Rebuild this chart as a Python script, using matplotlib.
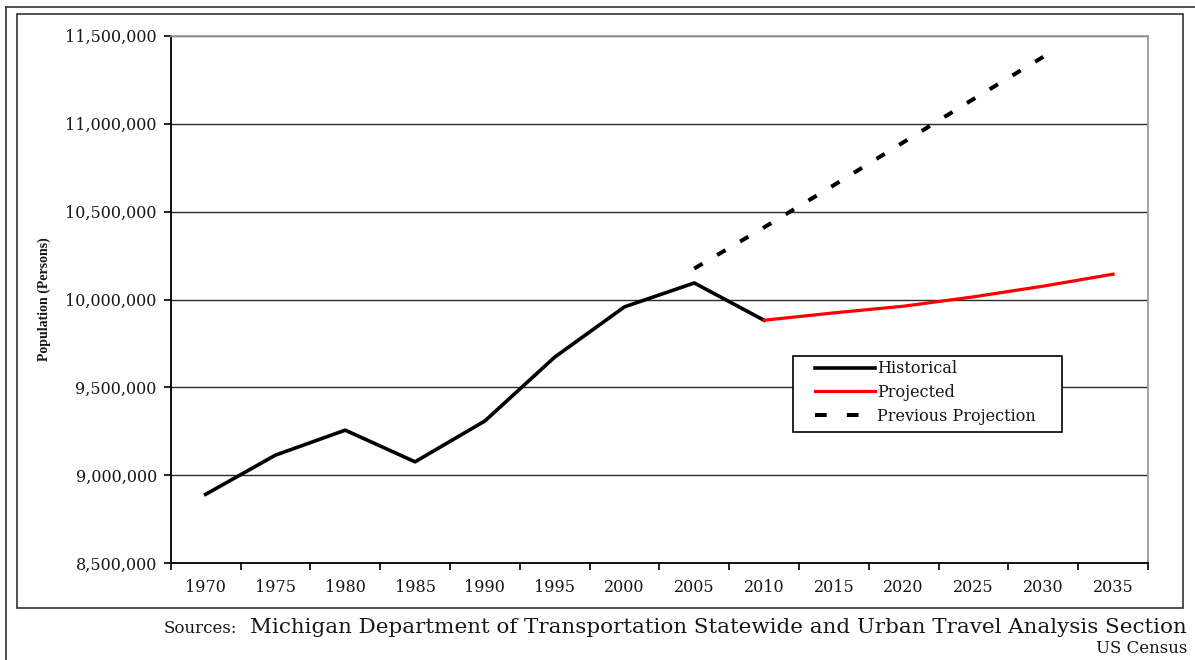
import numpy as np
import matplotlib.pyplot as plt
from matplotlib.patches import Rectangle
from matplotlib.lines import Line2D
from matplotlib.ticker import FixedLocator, FuncFormatter

# category axis
years = ['1970', '1975', '1980', '1985', '1990', '1995', '2000',
         '2005', '2010', '2015', '2020', '2025', '2030', '2035']

hist_years = ['1970', '1975', '1980', '1985', '1990', '1995', '2000', '2005', '2010']
historical = [8892000, 9115000, 9257000, 9077000, 9309000, 9672000, 9958000, 10094000, 9882000]

proj_years = ['2010', '2015', '2020', '2025', '2030', '2035']
projected = [9882000, 9924000, 9962000, 10015000, 10076000, 10144000]

prev_years = ['2005', '2010', '2015', '2020', '2025', '2030']
previous = [10176000, 10410000, 10650000, 10895000, 11140000, 11380000]

W, H = 1195, 660
serif = 'DejaVu Serif'
txt_col = '#161616'

pos = {y: i for i, y in enumerate(years)}

fig = plt.figure(figsize=(W / 100, H / 100), dpi=100)
ax = fig.add_axes([170.7 / W, 1 - 563.3 / H, (1148 - 170.7) / W, (563.3 - 35.7) / H])

l_hist, = ax.plot([pos[y] for y in hist_years], historical, color='black', lw=2.6,
                  solid_joinstyle='round', label='Historical', zorder=3)
l_proj, = ax.plot([pos[y] for y in proj_years], projected, color='#ff0000', lw=2.3,
                  solid_joinstyle='round', label='Projected', zorder=3)
l_prev, = ax.plot([pos[y] for y in prev_years], previous, color='black', lw=2.9,
                  dashes=(2.4, 4.2), dash_capstyle='butt', label='Previous Projection', zorder=3)

ax.set_xlim(-0.5, len(years) - 0.5)
ax.set_ylim(8500000, 11500000)

# ticks at category boundaries, labels at centres
ax.xaxis.set_major_locator(FixedLocator(np.arange(-0.5, len(years))))
ax.xaxis.set_major_formatter(FuncFormatter(lambda v, p: ''))
ax.xaxis.set_minor_locator(FixedLocator(np.arange(len(years))))
ax.xaxis.set_minor_formatter(FuncFormatter(lambda v, p: years[int(round(v))]))
ax.tick_params(axis='x', which='major', direction='out', length=5, width=1.2, color='black')
ax.tick_params(axis='x', which='minor', length=0, pad=11)

ax.set_yticks(np.arange(8500000, 11500001, 500000))
ax.yaxis.set_major_formatter(FuncFormatter(lambda v, p: f'{v:,.0f}'))
ax.tick_params(axis='y', direction='out', length=5, width=1.2, color='black', pad=5)

for lab in ax.get_xticklabels(minor=True) + ax.get_yticklabels():
    lab.set_family(serif)
    lab.set_fontsize(11.5)
    lab.set_color(txt_col)

ax.set_axisbelow(True)
ax.yaxis.grid(True, color='#2a2a2a', lw=1.0)
for s in ['left', 'bottom']:
    ax.spines[s].set_color('black')
    ax.spines[s].set_linewidth(1.3)
for s in ['top', 'right']:
    ax.spines[s].set_color('#9a9a9a')
    ax.spines[s].set_linewidth(1.3)

fig.text(44 / W, 1 - 299 / H, 'Population (Persons)', rotation=90, ha='center', va='center',
         family='Liberation Serif', fontweight='bold', fontsize=10, color=txt_col)

# legend box and entries
fig.add_artist(Rectangle((793.3 / W, 1 - 431.7 / H), (1061.7 - 793.3) / W, (431.7 - 355.7) / H,
                         transform=fig.transFigure, facecolor='white', edgecolor='black',
                         lw=1.2, zorder=2))
leg = fig.legend(handles=[l_hist, l_proj, l_prev], loc='upper left',
                 bbox_to_anchor=(811.5 / W, 1 - 357 / H), bbox_transform=fig.transFigure,
                 borderaxespad=0, borderpad=0.2, frameon=False, handlelength=3.75,
                 handletextpad=0.15, labelspacing=0.42,
                 prop={'family': serif, 'size': 11.5})
for t in leg.get_texts():
    t.set_color(txt_col)
leg.legend_handles[2].set_dashes((2.9, 5.0))

# frames around the figure
fig.add_artist(Line2D([5.7 / W, 5.7 / W], [0, 1 - 6.7 / H], transform=fig.transFigure,
                      color='#333333', lw=1.2))
fig.add_artist(Line2D([5.7 / W, 1], [1 - 6.7 / H, 1 - 6.7 / H], transform=fig.transFigure,
                      color='#333333', lw=1.2))
fig.add_artist(Rectangle((17.3 / W, 1 - 608 / H), (1182.7 - 17.3) / W, (608 - 14) / H,
                         transform=fig.transFigure, fill=False, edgecolor='#333333', lw=1.2))

# source notes
fig.text(1187 / W, 1 - 633 / H, 'Michigan Department of Transportation Statewide and Urban Travel Analysis Section',
         ha='right', va='baseline', family=serif, fontsize=15.4, color=txt_col)
fig.text(237 / W, 1 - 633 / H, 'Sources:', ha='right', va='baseline', family=serif,
         fontsize=12, color=txt_col)
fig.text(1187 / W, 1 - 653 / H, 'US Census', ha='right', va='baseline', family=serif,
         fontsize=12, color=txt_col)

fig.savefig('out.png', dpi=100)
